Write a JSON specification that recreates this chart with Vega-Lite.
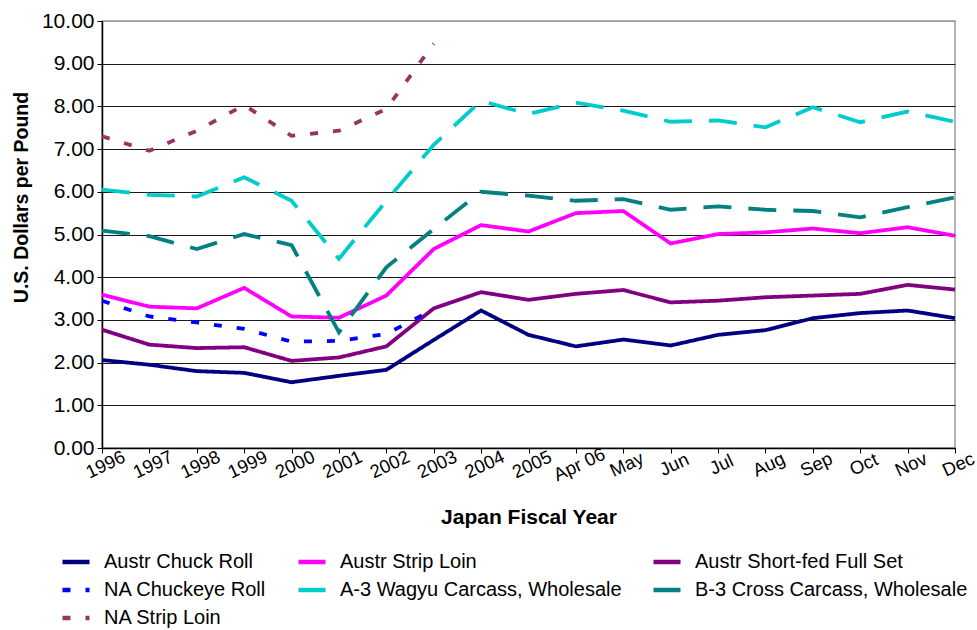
{
  "$schema": "https://vega.github.io/schema/vega-lite/v6.json",
  "width": 853,
  "height": 427,
  "autosize": {"type": "none"},
  "padding": {"left": 102, "top": 21, "right": 22, "bottom": 182},
  "background": "white",
  "config": {
    "font": "Liberation Sans",
    "view": {"stroke": "#9a9a9a", "strokeWidth": 1.5},
    "axis": {"labelFont": "Liberation Sans", "titleFont": "Liberation Sans"},
    "legend": {"labelFont": "Liberation Sans"}
  },
  "data": {
    "values": [
      {"x": "1996", "series": "Austr Chuck Roll", "value": 2.06},
      {"x": "1997", "series": "Austr Chuck Roll", "value": 1.95},
      {"x": "1998", "series": "Austr Chuck Roll", "value": 1.80},
      {"x": "1999", "series": "Austr Chuck Roll", "value": 1.76},
      {"x": "2000", "series": "Austr Chuck Roll", "value": 1.54},
      {"x": "2001", "series": "Austr Chuck Roll", "value": 1.69},
      {"x": "2002", "series": "Austr Chuck Roll", "value": 1.83},
      {"x": "2003", "series": "Austr Chuck Roll", "value": 2.53},
      {"x": "2004", "series": "Austr Chuck Roll", "value": 3.22},
      {"x": "2005", "series": "Austr Chuck Roll", "value": 2.65},
      {"x": "Apr 06", "series": "Austr Chuck Roll", "value": 2.38},
      {"x": "May", "series": "Austr Chuck Roll", "value": 2.54},
      {"x": "Jun", "series": "Austr Chuck Roll", "value": 2.40},
      {"x": "Jul", "series": "Austr Chuck Roll", "value": 2.65},
      {"x": "Aug", "series": "Austr Chuck Roll", "value": 2.76},
      {"x": "Sep", "series": "Austr Chuck Roll", "value": 3.04},
      {"x": "Oct", "series": "Austr Chuck Roll", "value": 3.16},
      {"x": "Nov", "series": "Austr Chuck Roll", "value": 3.22},
      {"x": "Dec", "series": "Austr Chuck Roll", "value": 3.04},

      {"x": "1996", "series": "Austr Strip Loin", "value": 3.59},
      {"x": "1997", "series": "Austr Strip Loin", "value": 3.31},
      {"x": "1998", "series": "Austr Strip Loin", "value": 3.27},
      {"x": "1999", "series": "Austr Strip Loin", "value": 3.75},
      {"x": "2000", "series": "Austr Strip Loin", "value": 3.08},
      {"x": "2001", "series": "Austr Strip Loin", "value": 3.05},
      {"x": "2002", "series": "Austr Strip Loin", "value": 3.57},
      {"x": "2003", "series": "Austr Strip Loin", "value": 4.66},
      {"x": "2004", "series": "Austr Strip Loin", "value": 5.22},
      {"x": "2005", "series": "Austr Strip Loin", "value": 5.07},
      {"x": "Apr 06", "series": "Austr Strip Loin", "value": 5.50},
      {"x": "May", "series": "Austr Strip Loin", "value": 5.55},
      {"x": "Jun", "series": "Austr Strip Loin", "value": 4.79},
      {"x": "Jul", "series": "Austr Strip Loin", "value": 5.01},
      {"x": "Aug", "series": "Austr Strip Loin", "value": 5.05},
      {"x": "Sep", "series": "Austr Strip Loin", "value": 5.14},
      {"x": "Oct", "series": "Austr Strip Loin", "value": 5.03},
      {"x": "Nov", "series": "Austr Strip Loin", "value": 5.17},
      {"x": "Dec", "series": "Austr Strip Loin", "value": 4.97},

      {"x": "1996", "series": "Austr Short-fed Full Set", "value": 2.77},
      {"x": "1997", "series": "Austr Short-fed Full Set", "value": 2.42},
      {"x": "1998", "series": "Austr Short-fed Full Set", "value": 2.34},
      {"x": "1999", "series": "Austr Short-fed Full Set", "value": 2.36},
      {"x": "2000", "series": "Austr Short-fed Full Set", "value": 2.04},
      {"x": "2001", "series": "Austr Short-fed Full Set", "value": 2.12},
      {"x": "2002", "series": "Austr Short-fed Full Set", "value": 2.38},
      {"x": "2003", "series": "Austr Short-fed Full Set", "value": 3.27},
      {"x": "2004", "series": "Austr Short-fed Full Set", "value": 3.65},
      {"x": "2005", "series": "Austr Short-fed Full Set", "value": 3.47},
      {"x": "Apr 06", "series": "Austr Short-fed Full Set", "value": 3.61},
      {"x": "May", "series": "Austr Short-fed Full Set", "value": 3.70},
      {"x": "Jun", "series": "Austr Short-fed Full Set", "value": 3.41},
      {"x": "Jul", "series": "Austr Short-fed Full Set", "value": 3.45},
      {"x": "Aug", "series": "Austr Short-fed Full Set", "value": 3.53},
      {"x": "Sep", "series": "Austr Short-fed Full Set", "value": 3.57},
      {"x": "Oct", "series": "Austr Short-fed Full Set", "value": 3.61},
      {"x": "Nov", "series": "Austr Short-fed Full Set", "value": 3.82},
      {"x": "Dec", "series": "Austr Short-fed Full Set", "value": 3.71},

      {"x": "1996", "series": "NA Chuckeye Roll", "value": 3.45},
      {"x": "1997", "series": "NA Chuckeye Roll", "value": 3.08},
      {"x": "1998", "series": "NA Chuckeye Roll", "value": 2.94},
      {"x": "1999", "series": "NA Chuckeye Roll", "value": 2.79},
      {"x": "2000", "series": "NA Chuckeye Roll", "value": 2.49},
      {"x": "2001", "series": "NA Chuckeye Roll", "value": 2.51},
      {"x": "2002", "series": "NA Chuckeye Roll", "value": 2.67},
      {"x": "2003", "series": "NA Chuckeye Roll", "value": 3.25},

      {"x": "1996", "series": "A-3 Wagyu Carcass, Wholesale", "value": 6.05},
      {"x": "1997", "series": "A-3 Wagyu Carcass, Wholesale", "value": 5.93},
      {"x": "1998", "series": "A-3 Wagyu Carcass, Wholesale", "value": 5.89},
      {"x": "1999", "series": "A-3 Wagyu Carcass, Wholesale", "value": 6.34},
      {"x": "2000", "series": "A-3 Wagyu Carcass, Wholesale", "value": 5.79},
      {"x": "2001", "series": "A-3 Wagyu Carcass, Wholesale", "value": 4.43},
      {"x": "2002", "series": "A-3 Wagyu Carcass, Wholesale", "value": 5.79},
      {"x": "2003", "series": "A-3 Wagyu Carcass, Wholesale", "value": 7.10},
      {"x": "2004", "series": "A-3 Wagyu Carcass, Wholesale", "value": 8.13},
      {"x": "2005", "series": "A-3 Wagyu Carcass, Wholesale", "value": 7.82},
      {"x": "Apr 06", "series": "A-3 Wagyu Carcass, Wholesale", "value": 8.09},
      {"x": "May", "series": "A-3 Wagyu Carcass, Wholesale", "value": 7.90},
      {"x": "Jun", "series": "A-3 Wagyu Carcass, Wholesale", "value": 7.64},
      {"x": "Jul", "series": "A-3 Wagyu Carcass, Wholesale", "value": 7.67},
      {"x": "Aug", "series": "A-3 Wagyu Carcass, Wholesale", "value": 7.51},
      {"x": "Sep", "series": "A-3 Wagyu Carcass, Wholesale", "value": 7.98},
      {"x": "Oct", "series": "A-3 Wagyu Carcass, Wholesale", "value": 7.63},
      {"x": "Nov", "series": "A-3 Wagyu Carcass, Wholesale", "value": 7.88},
      {"x": "Dec", "series": "A-3 Wagyu Carcass, Wholesale", "value": 7.64},

      {"x": "1996", "series": "B-3 Cross Carcass, Wholesale", "value": 5.09},
      {"x": "1997", "series": "B-3 Cross Carcass, Wholesale", "value": 4.96},
      {"x": "1998", "series": "B-3 Cross Carcass, Wholesale", "value": 4.66},
      {"x": "1999", "series": "B-3 Cross Carcass, Wholesale", "value": 5.01},
      {"x": "2000", "series": "B-3 Cross Carcass, Wholesale", "value": 4.75},
      {"x": "2001", "series": "B-3 Cross Carcass, Wholesale", "value": 2.71},
      {"x": "2002", "series": "B-3 Cross Carcass, Wholesale", "value": 4.23},
      {"x": "2003", "series": "B-3 Cross Carcass, Wholesale", "value": 5.13},
      {"x": "2004", "series": "B-3 Cross Carcass, Wholesale", "value": 6.00},
      {"x": "2005", "series": "B-3 Cross Carcass, Wholesale", "value": 5.91},
      {"x": "Apr 06", "series": "B-3 Cross Carcass, Wholesale", "value": 5.79},
      {"x": "May", "series": "B-3 Cross Carcass, Wholesale", "value": 5.83},
      {"x": "Jun", "series": "B-3 Cross Carcass, Wholesale", "value": 5.58},
      {"x": "Jul", "series": "B-3 Cross Carcass, Wholesale", "value": 5.66},
      {"x": "Aug", "series": "B-3 Cross Carcass, Wholesale", "value": 5.58},
      {"x": "Sep", "series": "B-3 Cross Carcass, Wholesale", "value": 5.55},
      {"x": "Oct", "series": "B-3 Cross Carcass, Wholesale", "value": 5.40},
      {"x": "Nov", "series": "B-3 Cross Carcass, Wholesale", "value": 5.64},
      {"x": "Dec", "series": "B-3 Cross Carcass, Wholesale", "value": 5.87},

      {"x": "1996", "series": "NA Strip Loin", "value": 7.30},
      {"x": "1997", "series": "NA Strip Loin", "value": 6.96},
      {"x": "1998", "series": "NA Strip Loin", "value": 7.43},
      {"x": "1999", "series": "NA Strip Loin", "value": 8.03},
      {"x": "2000", "series": "NA Strip Loin", "value": 7.31},
      {"x": "2001", "series": "NA Strip Loin", "value": 7.43},
      {"x": "2002", "series": "NA Strip Loin", "value": 7.94},
      {"x": "2003", "series": "NA Strip Loin", "value": 9.47}
    ]
  },
  "mark": {"type": "line", "strokeWidth": 3.8, "strokeCap": "butt", "strokeJoin": "miter"},
  "encoding": {
    "x": {
      "field": "x",
      "type": "ordinal",
      "scale": {"type": "point", "padding": 0, "domain": ["1996", "1997", "1998", "1999", "2000", "2001", "2002", "2003", "2004", "2005", "Apr 06", "May", "Jun", "Jul", "Aug", "Sep", "Oct", "Nov", "Dec"]},
      "axis": {
        "title": "Japan Fiscal Year",
        "titleFontSize": 21,
        "titleFontWeight": "bold",
        "titleColor": "black",
        "titlePadding": 22,
        "labelFontSize": 18.5,
        "labelColor": "black",
        "labelAngle": -25,
        "labelAlign": "center",
        "labelBaseline": "middle",
        "labelPadding": 11,
        "labelOffset": 3,
        "tickColor": "black",
        "tickSize": 5,
        "domainColor": "black",
        "domainWidth": 1.5,
        "grid": false
      }
    },
    "y": {
      "field": "value",
      "type": "quantitative",
      "scale": {"domain": [0, 10], "nice": false},
      "axis": {
        "title": "U.S. Dollars per Pound",
        "titleFontSize": 19.5,
        "titleFontWeight": "bold",
        "titleColor": "black",
        "titleAngle": -90,
        "titleAlign": "center",
        "titleBaseline": "middle",
        "titleX": -81,
        "titleY": 176,
        "values": [0, 1, 2, 3, 4, 5, 6, 7, 8, 9, 10],
        "format": ".2f",
        "labelFontSize": 21,
        "labelColor": "black",
        "labelPadding": 3,
        "tickColor": "black",
        "tickSize": 5,
        "domainColor": "black",
        "domainWidth": 1.5,
        "grid": true,
        "gridColor": {"condition": {"test": "datum.value == 10", "value": "#9a9a9a"}, "value": "#1a1a1a"},
        "gridWidth": 1.2
      }
    },
    "color": {
      "field": "series",
      "type": "nominal",
      "scale": {
        "domain": ["Austr Chuck Roll", "Austr Strip Loin", "Austr Short-fed Full Set", "NA Chuckeye Roll", "A-3 Wagyu Carcass, Wholesale", "B-3 Cross Carcass, Wholesale", "NA Strip Loin"],
        "range": ["#000080", "#FF00FF", "#800080", "#0000FF", "#00CCCC", "#008080", "#993366"]
      },
      "legend": {
        "title": null,
        "orient": "none",
        "legendX": -42,
        "legendY": 525,
        "direction": "horizontal",
        "columns": 3,
        "columnPadding": 22,
        "rowPadding": 2,
        "labelFontSize": 20,
        "labelColor": "black",
        "labelOffset": 12,
        "symbolType": "stroke",
        "symbolSize": 730,
        "symbolStrokeWidth": 4.5,
        "labelLimit": 400
      }
    },
    "strokeDash": {
      "field": "series",
      "type": "nominal",
      "scale": {
        "domain": ["Austr Chuck Roll", "Austr Strip Loin", "Austr Short-fed Full Set", "NA Chuckeye Roll", "A-3 Wagyu Carcass, Wholesale", "B-3 Cross Carcass, Wholesale", "NA Strip Loin"],
        "range": [[1, 0], [1, 0], [1, 0], [8, 15], [28, 17], [28, 17], [8, 15]]
      },
      "legend": {
        "title": null,
        "orient": "none",
        "legendX": -42,
        "legendY": 525,
        "direction": "horizontal",
        "columns": 3,
        "columnPadding": 22,
        "rowPadding": 2,
        "labelFontSize": 20,
        "labelColor": "black",
        "labelOffset": 12,
        "symbolType": "stroke",
        "symbolSize": 730,
        "symbolStrokeWidth": 4.5,
        "labelLimit": 400
      }
    }
  }
}
